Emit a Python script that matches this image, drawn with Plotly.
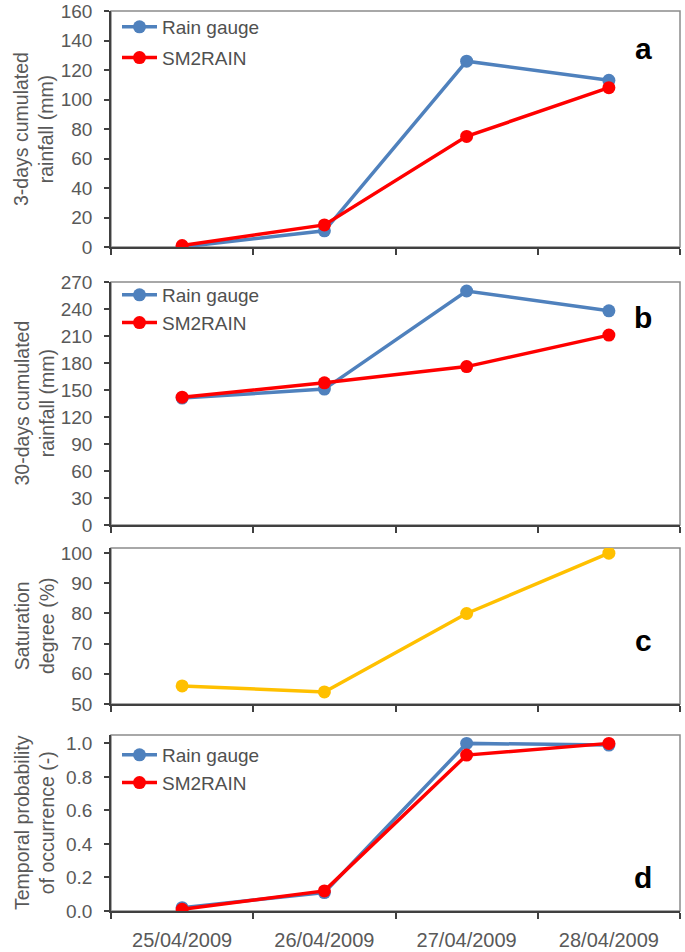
import plotly.graph_objects as go

# ---------------- data ----------------
dates = ["25/04/2009", "26/04/2009", "27/04/2009", "28/04/2009"]
rain3_gauge = [0, 11, 126, 113]
rain3_sm2rain = [1, 15, 75, 108]
rain30_gauge = [141, 151, 260, 238]
rain30_sm2rain = [142, 158, 176, 211]
saturation = [56, 54, 80, 100]
prob_gauge = [0.02, 0.11, 1.0, 0.99]
prob_sm2rain = [0.01, 0.12, 0.93, 1.0]

panel_titles = ["3-days cumulated<br>rainfall (mm)", "30-days cumulated<br>rainfall (mm)",
                "Saturation<br>degree (%)", "Temporal probability<br>of occurrence (-)"]
panel_letters = ["a", "b", "c", "d"]

BLUE = "#4F81BD"
RED = "#FF0000"
GOLD = "#FFC000"
FONT = "Liberation Sans, Arial, sans-serif"
TICKC = "#595959"

W, H = 685, 952
L, R = 111, 5
# panel pixel extents (top, bottom)
panels_px = [(11, 247), (282, 525), (548, 704), (735, 911)]


def py(px):
    return 1 - px / H


def pxx(px):
    return (px - L) / (W - L - R)


fig = go.Figure()


def add_line(y, name, color, ax, legend, show):
    fig.add_trace(go.Scatter(
        x=dates, y=y, name=name, mode="lines+markers",
        line=dict(color=color, width=3.5),
        marker=dict(color=color, size=13),
        xaxis="x" + ax, yaxis="y" + ax,
        legend=legend, showlegend=show, legendgroup=name + legend,
    ))


add_line(rain3_gauge, "Rain gauge", BLUE, "", "legend", True)
add_line(rain3_sm2rain, "SM2RAIN", RED, "", "legend", True)
add_line(rain30_gauge, "Rain gauge", BLUE, "2", "legend2", True)
add_line(rain30_sm2rain, "SM2RAIN", RED, "2", "legend2", True)
add_line(saturation, "Saturation degree", GOLD, "3", "legend", False)
add_line(prob_gauge, "Rain gauge", BLUE, "4", "legend3", True)
add_line(prob_sm2rain, "SM2RAIN", RED, "4", "legend3", True)

yranges = [[0, 160], [0, 270], [50, 101.7], [0, 1.05]]
ydtick = [20, 30, 10, 0.2]
ytickformat = ["d", "d", "d", ".1f"]

layout = dict(
    width=W, height=H,
    margin=dict(l=L, r=R, t=0, b=0),
    paper_bgcolor="white", plot_bgcolor="white",
    font=dict(family=FONT, color=TICKC, size=17),
)

shapes = []
annotations = []
for i, (top, bot) in enumerate(panels_px):
    sfx = "" if i == 0 else str(i + 1)
    layout["xaxis" + sfx] = dict(
        domain=[0, 1], anchor="y" + sfx, type="category",
        categoryorder="array", categoryarray=dates, range=[-0.5, 3.5],
        tickson="boundaries", ticks="outside", ticklen=6, tickcolor="#404040", tickwidth=1.5,
        showline=True, linecolor="#404040", linewidth=1.5,
        showgrid=False, zeroline=False,
        showticklabels=(i == 3), tickfont=dict(size=20, color=TICKC),
        ticklabelstandoff=10, automargin=False,
    )
    layout["yaxis" + sfx] = dict(
        domain=[py(bot), py(top)], anchor="x" + sfx,
        range=yranges[i], dtick=ydtick[i], tick0=0, tickformat=ytickformat[i],
        ticks="outside", ticklen=5, tickcolor="#404040", tickwidth=1.5,
        showline=True, linecolor="#404040", linewidth=1.5,
        showgrid=False, zeroline=False,
        tickfont=dict(size=19, color=TICKC), ticklabelstandoff=8, automargin=False,
    )
    shapes.append(dict(type="rect", xref="x" + sfx + " domain", yref="y" + sfx + " domain",
                       x0=0, x1=1, y0=0, y1=1, line=dict(color="#8C8C8C", width=1.5),
                       layer="below"))
    annotations.append(dict(
        text=panel_titles[i], textangle=-90, xref="paper", yref="paper",
        x=pxx(34), y=py((top + bot) / 2), xanchor="center", yanchor="middle",
        showarrow=False, font=dict(size=19.5, color=TICKC, family=FONT),
    ))

letter_px = [(643, 48), (643, 318), (643, 640), (643, 877)]
for i, (lx, ly) in enumerate(letter_px):
    annotations.append(dict(
        text="<b>" + panel_letters[i] + "</b>", xref="paper", yref="paper",
        x=pxx(lx), y=py(ly), xanchor="center", yanchor="middle", showarrow=False,
        font=dict(size=30, color="black", family=FONT),
    ))

leg_common = dict(font=dict(size=19, color="#505050", family=FONT), bgcolor="rgba(0,0,0,0)",
                  borderwidth=0, xanchor="left", yanchor="top", traceorder="grouped",
                  itemwidth=35)
layout["legend"] = dict(leg_common, x=pxx(117), y=py(8), tracegroupgap=3)
layout["legend2"] = dict(leg_common, x=pxx(117), y=py(276), tracegroupgap=0)
layout["legend3"] = dict(leg_common, x=pxx(117), y=py(736), tracegroupgap=0)
layout["shapes"] = shapes
layout["annotations"] = annotations
fig.update_layout(**layout)

fig.write_html("out.html", config={"displayModeBar": False},
               post_script="document.body.style.margin='0';document.body.style.padding='0';")
